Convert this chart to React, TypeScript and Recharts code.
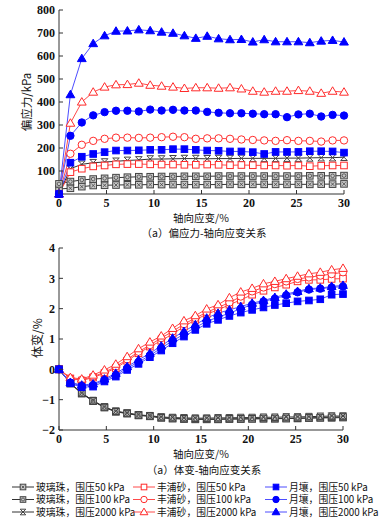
import React from 'react';
import { LineChart, Line, XAxis, YAxis } from 'recharts';

const strain = [0, 1.2, 2.4, 3.6, 4.8, 6, 7.2, 8.4, 9.6, 10.8, 12, 13.2, 14.4, 15.6, 16.8, 18, 19.2, 20.4, 21.6, 22.8, 24, 25.2, 26.4, 27.6, 28.8, 30];

// deviatoric stress (kPa)
const qGlass50 = [22, 25, 32, 37, 38, 39, 40, 40, 41, 41, 41, 41, 41, 41, 41, 42, 42, 42, 42, 42, 42, 42, 42, 43, 43, 44];
const qGlass100 = [44, 54, 61, 65, 68, 71, 73, 75, 75, 76, 76, 77, 77, 77, 78, 78, 78, 78, 78, 78, 78, 78, 79, 79, 79, 80];
const qGlass2000 = [0, 110, 129, 136, 139, 142, 146, 148, 152, 152, 153, 154, 154, 153, 154, 154, 155, 155, 155, 155, 156, 156, 157, 158, 158, 160];
const qSand50 = [0, 95, 110, 120, 124, 129, 130, 130, 129, 128, 128, 127, 127, 128, 127, 125, 126, 125, 124, 124, 123, 124, 121, 123, 124, 124];
const qSand100 = [0, 175, 214, 231, 240, 245, 245, 244, 245, 247, 249, 247, 240, 242, 242, 240, 237, 235, 233, 231, 234, 231, 231, 228, 233, 233];
const qSand2000 = [0, 308, 400, 443, 465, 475, 476, 482, 473, 469, 465, 459, 462, 462, 460, 462, 457, 447, 443, 447, 447, 450, 447, 438, 447, 443];
const qLunar50 = [0, 136, 162, 174, 182, 189, 189, 190, 192, 192, 195, 195, 192, 189, 188, 185, 185, 182, 174, 183, 183, 183, 186, 186, 185, 180];
const qLunar100 = [0, 253, 311, 342, 356, 362, 362, 359, 367, 363, 366, 363, 363, 357, 353, 351, 351, 349, 347, 347, 334, 346, 349, 337, 344, 341];
const qLunar2000 = [0, 432, 589, 654, 688, 708, 709, 714, 710, 704, 699, 688, 677, 686, 675, 671, 672, 661, 671, 662, 662, 662, 658, 665, 668, 661];

// volumetric strain (%)
const vGlass50 = [0, -0.46, -0.79, -1.04, -1.25, -1.39, -1.45, -1.51, -1.54, -1.59, -1.62, -1.64, -1.65, -1.65, -1.65, -1.64, -1.64, -1.63, -1.63, -1.63, -1.62, -1.62, -1.61, -1.6, -1.6, -1.59];
const vGlass100 = [0, -0.47, -0.8, -1.05, -1.26, -1.4, -1.46, -1.52, -1.55, -1.6, -1.62, -1.63, -1.64, -1.64, -1.64, -1.63, -1.63, -1.63, -1.62, -1.62, -1.62, -1.61, -1.6, -1.59, -1.58, -1.57];
const vGlass2000 = [0, -0.45, -0.78, -1.03, -1.24, -1.38, -1.44, -1.5, -1.53, -1.57, -1.59, -1.6, -1.61, -1.61, -1.6, -1.6, -1.59, -1.59, -1.58, -1.58, -1.57, -1.57, -1.56, -1.55, -1.54, -1.54];
const vSand50 = [0, -0.3, -0.37, -0.27, -0.13, 0.04, 0.28, 0.53, 0.75, 0.94, 1.17, 1.41, 1.63, 1.82, 1.96, 2.13, 2.29, 2.46, 2.59, 2.7, 2.79, 2.9, 2.95, 2.95, 2.98, 2.99];
const vSand100 = [0, -0.3, -0.35, -0.24, -0.1, 0.09, 0.33, 0.58, 0.8, 1.03, 1.25, 1.49, 1.69, 1.88, 2.04, 2.2, 2.4, 2.57, 2.7, 2.81, 2.9, 2.98, 3.03, 3.09, 3.14, 3.2];
const vSand2000 = [0, -0.27, -0.32, -0.19, -0.02, 0.17, 0.42, 0.68, 0.9, 1.1, 1.35, 1.6, 1.77, 1.99, 2.13, 2.36, 2.55, 2.67, 2.82, 2.9, 2.99, 3.07, 3.15, 3.2, 3.28, 3.33];
const vLunar50 = [0, -0.46, -0.59, -0.57, -0.4, -0.24, -0.02, 0.18, 0.4, 0.62, 0.86, 1.08, 1.3, 1.5, 1.63, 1.76, 1.87, 1.96, 2.04, 2.12, 2.18, 2.24, 2.27, 2.31, 2.46, 2.48];
const vLunar100 = [0, -0.44, -0.55, -0.52, -0.35, -0.19, 0.04, 0.24, 0.46, 0.7, 0.94, 1.16, 1.38, 1.58, 1.72, 1.85, 2.0, 2.13, 2.24, 2.33, 2.44, 2.54, 2.63, 2.66, 2.7, 2.73];
const vLunar2000 = [0, -0.43, -0.52, -0.48, -0.32, -0.13, 0.09, 0.31, 0.53, 0.77, 1.03, 1.25, 1.47, 1.69, 1.85, 1.96, 2.07, 2.18, 2.27, 2.37, 2.48, 2.57, 2.66, 2.68, 2.73, 2.77];

const xTicks = [0, 5, 10, 15, 20, 25, 30];
const qTicks = [100, 200, 300, 400, 500, 600, 700, 800];
const vTicks = [-2, -1, 0, 1, 2, 3, 4];

const seriesNames = {
  glass50: '玻璃珠，围压50 kPa',
  glass100: '玻璃珠，围压100 kPa',
  glass2000: '玻璃珠，围压2000 kPa',
  sand50: '丰浦砂，围压50 kPa',
  sand100: '丰浦砂，围压100 kPa',
  sand2000: '丰浦砂，围压2000 kPa',
  lunar50: '月壤，围压50 kPa',
  lunar100: '月壤，围压100 kPa',
  lunar2000: '月壤，围压2000 kPa',
};

const GLASS_LINE = '#333333';
const GLASS_MK = '#444444';
const RED_LINE = '#ff4a4a';
const RED_MK = '#ff2a2a';
const BLUE_LINE = '#4d4dff';
const BLUE_MK = '#0000ff';

type Def = { key: string; line: string; mk: string; kind: string };
const defs: Def[] = [
  { key: 'glass50', line: GLASS_LINE, mk: GLASS_MK, kind: 'gsq' },
  { key: 'glass100', line: GLASS_LINE, mk: GLASS_MK, kind: 'gsq2' },
  { key: 'glass2000', line: GLASS_LINE, mk: GLASS_MK, kind: 'gstar' },
  { key: 'sand50', line: RED_LINE, mk: RED_MK, kind: 'sqo' },
  { key: 'sand100', line: RED_LINE, mk: RED_MK, kind: 'cio' },
  { key: 'sand2000', line: RED_LINE, mk: RED_MK, kind: 'tro' },
  { key: 'lunar50', line: BLUE_LINE, mk: BLUE_MK, kind: 'sqf' },
  { key: 'lunar100', line: BLUE_LINE, mk: BLUE_MK, kind: 'cif' },
  { key: 'lunar2000', line: BLUE_LINE, mk: BLUE_MK, kind: 'trf' },
];

const stressData = strain.map((x, i) => ({
  x,
  glass50: qGlass50[i], glass100: qGlass100[i], glass2000: qGlass2000[i],
  sand50: qSand50[i], sand100: qSand100[i], sand2000: qSand2000[i],
  lunar50: qLunar50[i], lunar100: qLunar100[i], lunar2000: qLunar2000[i],
}));

const volData = strain.map((x, i) => ({
  x,
  glass50: vGlass50[i], glass100: vGlass100[i], glass2000: vGlass2000[i],
  sand50: vSand50[i], sand100: vSand100[i], sand2000: vSand2000[i],
  lunar50: vLunar50[i], lunar100: vLunar100[i], lunar2000: vLunar2000[i],
}));

function Marker({ kind, cx, cy, color, s = 1 }: { kind: string; cx: number; cy: number; color: string; s?: number }) {
  const h = 3.3 * s;
  switch (kind) {
    case 'gsq':
      return (
        <g>
          <rect x={cx - h} y={cy - h} width={2 * h} height={2 * h} fill="#c8c8c8" stroke={color} strokeWidth={1} />
          <line x1={cx - h + 1.5} y1={cy - h + 1.5} x2={cx + h - 1.5} y2={cy + h - 1.5} stroke={color} strokeWidth={0.8} />
          <line x1={cx - h + 1.5} y1={cy + h - 1.5} x2={cx + h - 1.5} y2={cy - h + 1.5} stroke={color} strokeWidth={0.8} />
        </g>
      );
    case 'gsq2':
      return (
        <g>
          <rect x={cx - h} y={cy - h} width={2 * h} height={2 * h} fill="#c8c8c8" stroke={color} strokeWidth={1} />
          <circle cx={cx} cy={cy} r={h * 0.55} fill="none" stroke={color} strokeWidth={0.8} />
        </g>
      );
    case 'gstar':
      return (
        <g stroke={color} strokeWidth={1} fill="none">
          <line x1={cx - h} y1={cy - h} x2={cx + h} y2={cy + h} />
          <line x1={cx - h} y1={cy + h} x2={cx + h} y2={cy - h} />
          <line x1={cx - h} y1={cy - h} x2={cx + h} y2={cy - h} />
          <line x1={cx - h} y1={cy + h} x2={cx + h} y2={cy + h} />
        </g>
      );
    case 'sqo':
      return <rect x={cx - h} y={cy - h} width={2 * h} height={2 * h} fill="#fff" stroke={color} strokeWidth={1} />;
    case 'sqf':
      return <rect x={cx - h} y={cy - h} width={2 * h} height={2 * h} fill={color} stroke={color} strokeWidth={1} />;
    case 'cio':
      return <circle cx={cx} cy={cy} r={h + 0.4} fill="#fff" stroke={color} strokeWidth={1} />;
    case 'cif':
      return <circle cx={cx} cy={cy} r={h + 0.4} fill={color} stroke={color} strokeWidth={1} />;
    case 'tro':
    case 'trf': {
      const t = h + 1.1;
      const pts = `${cx},${cy - t} ${cx - t},${cy + t * 0.7} ${cx + t},${cy + t * 0.7}`;
      return <polygon points={pts} fill={kind === 'tro' ? '#fff' : color} stroke={color} strokeWidth={1} />;
    }
    default:
      return null;
  }
}

const AXIS = '#333';
const NUM_FONT = '"Liberation Serif", "Times New Roman", serif';
const CJK_FONT = '"Noto Sans CJK SC", "Noto Sans", sans-serif';

const fmt = (v: number) => (v < 0 ? '\u2212' + Math.abs(v) : String(v));

function XTick(props: any) {
  const { x, y, payload } = props;
  return (
    <g>
      <line x1={x} x2={x} y1={y} y2={y - 4} stroke={AXIS} strokeWidth={1} />
      <text x={x} y={y + 12.5} textAnchor="middle" fontFamily={NUM_FONT} fontSize={12} fontWeight="bold" fill="#111">
        {fmt(payload.value)}
      </text>
    </g>
  );
}

function YTick(props: any) {
  const { x, y, payload } = props;
  return (
    <g>
      <line x1={x} x2={x + 4} y1={y} y2={y} stroke={AXIS} strokeWidth={1} />
      <text x={x - 4} y={y + 4.3} textAnchor="end" fontFamily={NUM_FONT} fontSize={12} fontWeight="bold" fill="#111">
        {fmt(payload.value)}
      </text>
    </g>
  );
}

function renderLines(prefix: string, s: number) {
  return defs.map((d) => (
    <Line
      key={prefix + d.key}
      type="linear"
      dataKey={d.key}
      stroke={d.line}
      strokeWidth={1}
      isAnimationActive={false}
      activeDot={false}
      dot={(p: any) => (
        <Marker key={`${prefix}${d.key}-${p.index}`} kind={d.kind} cx={p.cx} cy={p.cy} color={d.mk} s={s} />
      )}
    />
  ));
}

const textStyle: React.CSSProperties = {
  position: 'absolute',
  left: 0,
  width: 386,
  textAlign: 'center',
  fontFamily: CJK_FONT,
  fontSize: 10.5,
  lineHeight: '11px',
  color: '#111',
  whiteSpace: 'nowrap',
};

const legendRows = [
  ['glass50', 'sand50', 'lunar50'],
  ['glass100', 'sand100', 'lunar100'],
  ['glass2000', 'sand2000', 'lunar2000'],
];
const legendColX = [12, 133, 265];

function LegendBlock() {
  return (
    <svg width={386} height={44} style={{ position: 'absolute', left: 0, top: 479 }}>
      {legendRows.map((row, ri) =>
        row.map((key, ci) => {
          const d = defs.find((q) => q.key === key)!;
          const x0 = legendColX[ci];
          const y = 8 + ri * 12.5;
          return (
            <g key={key}>
              <line x1={x0} x2={x0 + 22} y1={y} y2={y} stroke={d.line} strokeWidth={1} />
              <Marker kind={d.kind} cx={x0 + 11} cy={y} color={d.mk} s={0.85} />
              <text x={x0 + 24} y={y + 3.6} fontFamily={CJK_FONT} fontSize={9.8} fill="#111">
                {(seriesNames as any)[key]}
              </text>
            </g>
          );
        })
      )}
    </svg>
  );
}

export default function App() {
  return (
    <div style={{ position: 'fixed', left: 0, top: 0, width: 386, height: 527, background: '#fff', overflow: 'hidden' }}>
      <div style={{ position: 'absolute', left: 0, top: 0 }}>
        <LineChart width={386} height={240} data={stressData} margin={{ top: 10, right: 42, bottom: 26, left: 0 }}>
          <XAxis dataKey="x" type="number" domain={[0, 30]} ticks={xTicks} tickSize={0} tickMargin={0} height={20}
            axisLine={{ stroke: AXIS }} tickLine={false} tick={<XTick />} interval={0} />
          <YAxis type="number" domain={[0, 800]} ticks={qTicks} width={59} tickSize={0} tickMargin={0}
            axisLine={{ stroke: AXIS }} tickLine={false} tick={<YTick />} interval={0} />
          <XAxis xAxisId="top" orientation="top" type="number" domain={[0, 30]} height={0} tick={false} tickLine={false} axisLine={{ stroke: AXIS }} />
          <YAxis yAxisId="right" orientation="right" type="number" domain={[0, 800]} width={0} tick={false} tickLine={false} axisLine={{ stroke: AXIS }} />
          {renderLines('q-', 1)}
        </LineChart>
      </div>
      <div style={{ ...textStyle, left: 26, width: 0, top: 102, height: 0 }}>
        <div style={{ position: 'absolute', left: 0, top: 0, transform: 'translate(-50%, -50%) rotate(-90deg)', fontSize: 11.5 }}>偏应力/kPa</div>
      </div>
      <div style={{ ...textStyle, left: 201 - 193, top: 211.5 }}>轴向应变/%</div>
      <div style={{ ...textStyle, left: 204 - 193, top: 227 }}>（a）偏应力-轴向应变关系</div>

      <div style={{ position: 'absolute', left: 0, top: 236 }}>
        <LineChart width={386} height={220} data={volData} margin={{ top: 12, right: 43, bottom: 6, left: 0 }}>
          <XAxis dataKey="x" type="number" domain={[0, 30]} ticks={xTicks} tickSize={0} tickMargin={0} height={20}
            axisLine={{ stroke: AXIS }} tickLine={false} tick={<XTick />} interval={0} />
          <YAxis type="number" domain={[-2, 4]} ticks={vTicks} width={59} tickSize={0} tickMargin={0}
            axisLine={{ stroke: AXIS }} tickLine={false} tick={<YTick />} interval={0} />
          <XAxis xAxisId="top" orientation="top" type="number" domain={[0, 30]} height={0} tick={false} tickLine={false} axisLine={{ stroke: AXIS }} />
          <YAxis yAxisId="right" orientation="right" type="number" domain={[-2, 4]} width={0} tick={false} tickLine={false} axisLine={{ stroke: AXIS }} />
          {renderLines('v-', 1)}
        </LineChart>
      </div>
      <div style={{ ...textStyle, left: 36, width: 0, top: 338, height: 0 }}>
        <div style={{ position: 'absolute', left: 0, top: 0, transform: 'translate(-50%, -50%) rotate(-90deg)', fontSize: 12 }}>体变/%</div>
      </div>
      <div style={{ ...textStyle, left: 201 - 193, top: 448 }}>轴向应变/%</div>
      <div style={{ ...textStyle, left: 204 - 193, top: 463.5 }}>（a）体变-轴向应变关系</div>
      <LegendBlock />
    </div>
  );
}
